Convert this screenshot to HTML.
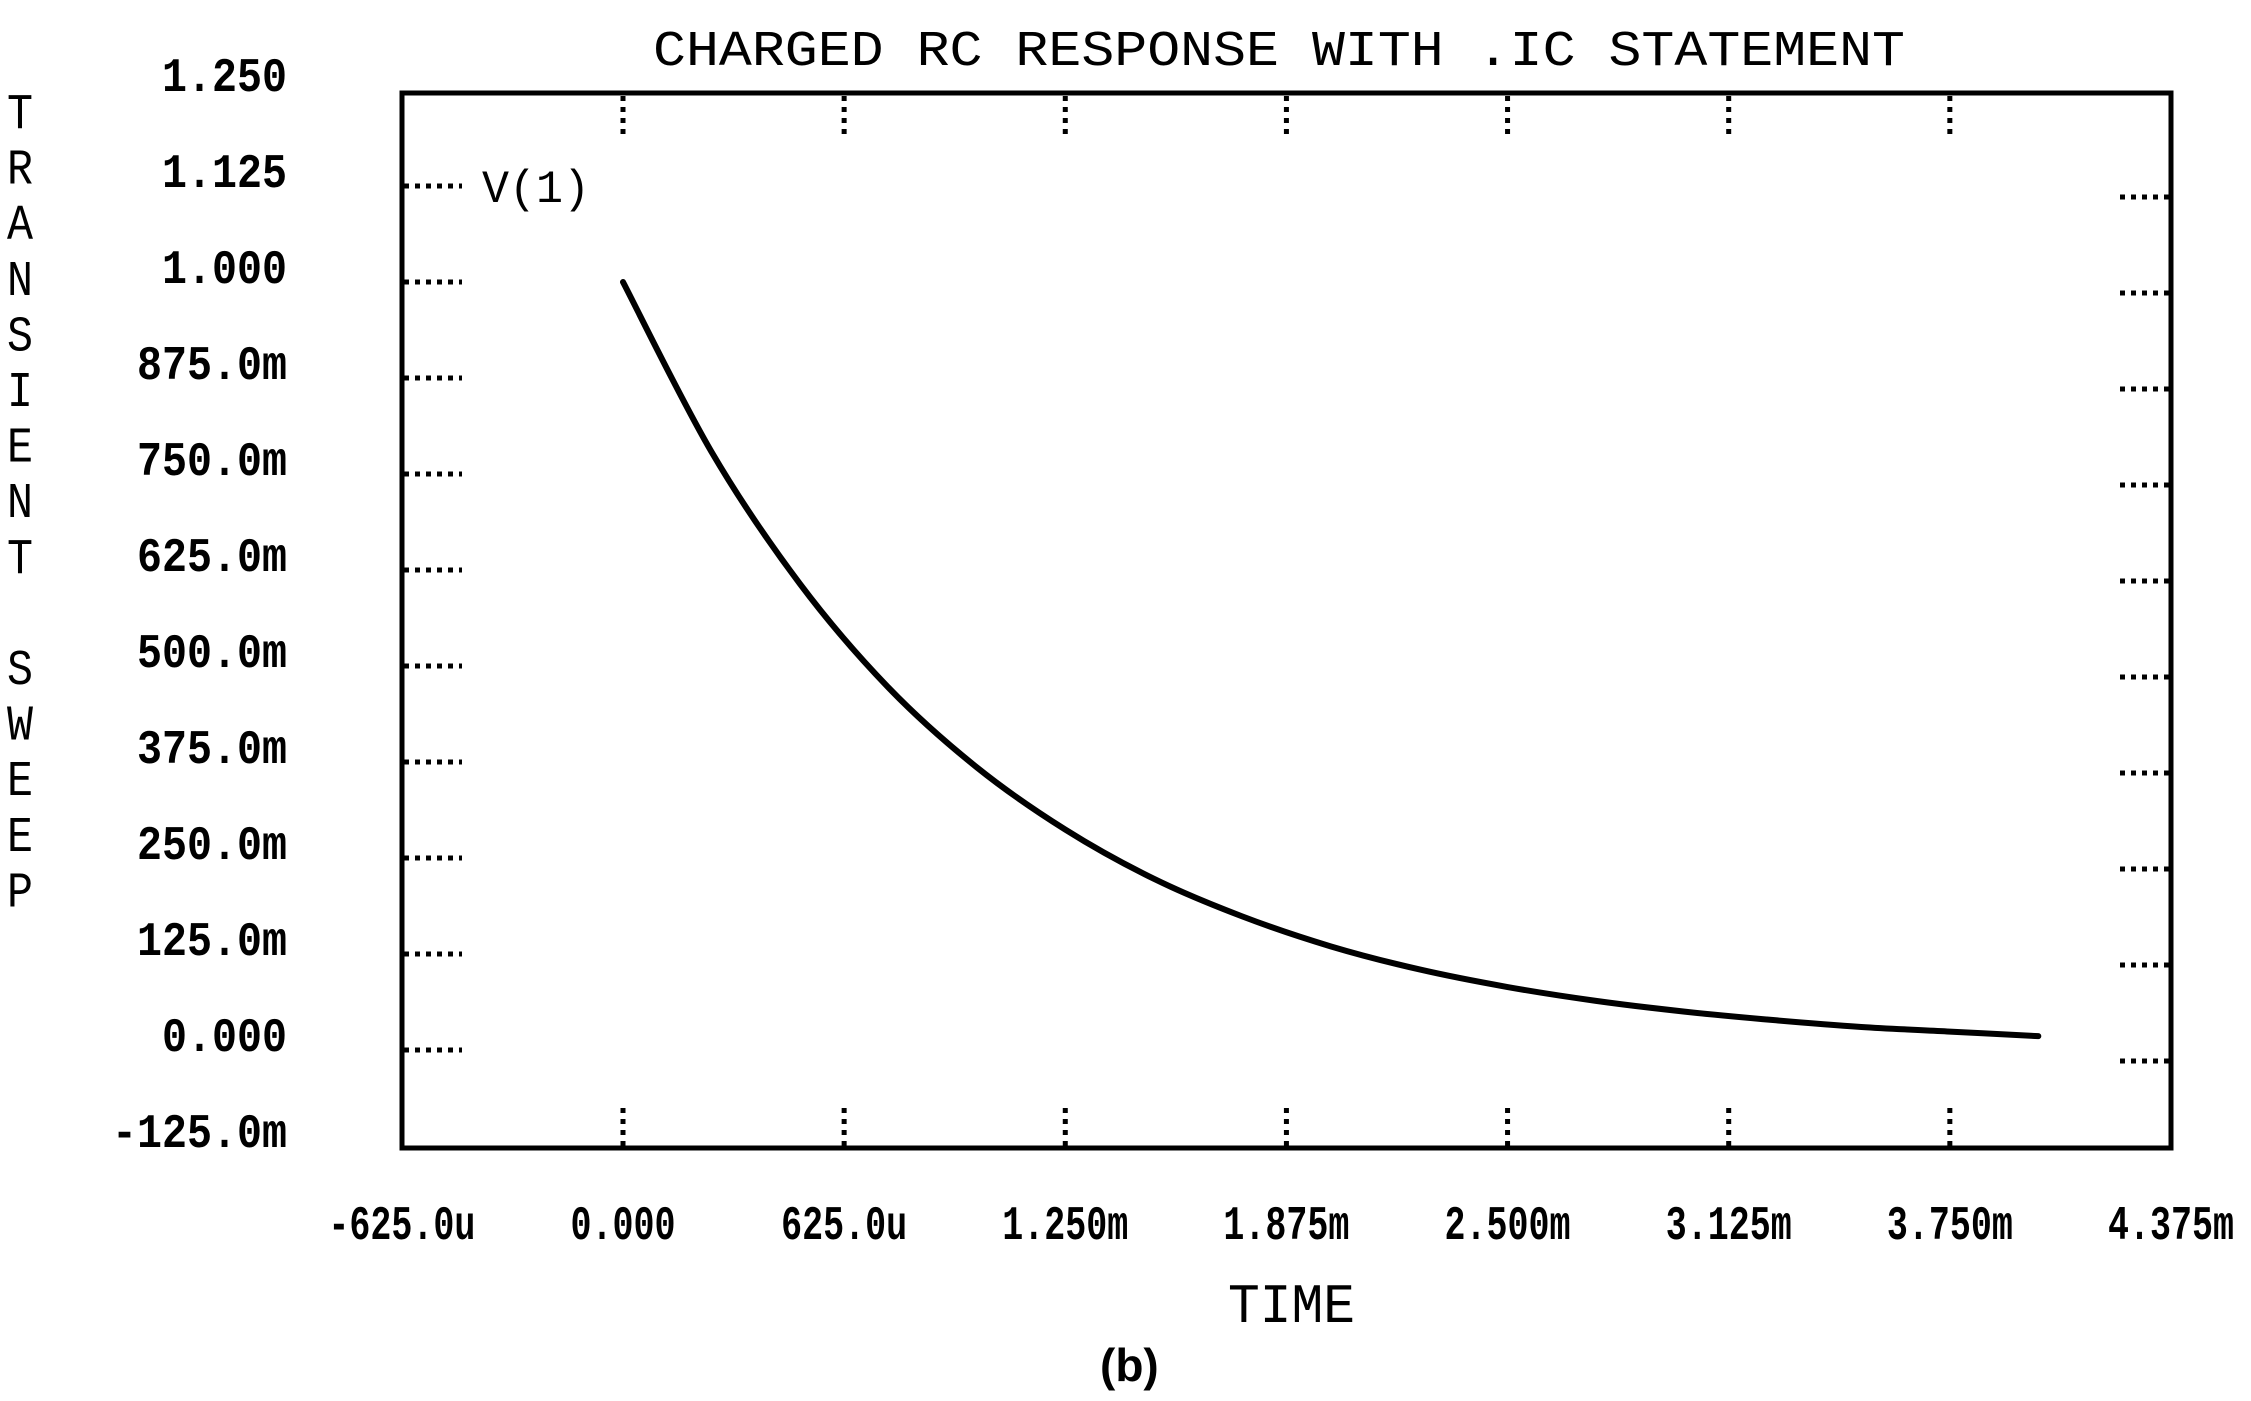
<!DOCTYPE html>
<html><head><meta charset="utf-8"><style>
html,body{margin:0;padding:0;background:#fff;}
svg{display:block;}
text{font-family:"Liberation Mono",monospace;fill:#000;}
</style></head><body>
<svg id="chart" width="2251" height="1401" viewBox="0 0 2251 1401" xmlns="http://www.w3.org/2000/svg">
<text x="653" y="65" font-size="50" textLength="1252" lengthAdjust="spacingAndGlyphs">CHARGED RC RESPONSE WITH .IC STATEMENT</text>
<g id="ytitle"></g>
<rect x="402" y="93" width="1769" height="1055" fill="none" stroke="#000" stroke-width="5"/>
<g id="ticks"></g>
<g id="labels"></g>
<text x="482" y="202" font-size="46" textLength="108" lengthAdjust="spacingAndGlyphs">V(1)</text>
<path id="curve" fill="none" stroke="#000" stroke-width="6" stroke-linecap="round" stroke-linejoin="round"/>
<text x="1228" y="1322" font-size="56" textLength="127" lengthAdjust="spacingAndGlyphs">TIME</text>
<text x="1100" y="1381" font-size="46" font-weight="bold" style="font-family:'Liberation Sans',sans-serif">(b)</text>
</svg>
<script>
const yTicks = [1.25, 1.125, 1.0, 0.875, 0.75, 0.625, 0.5, 0.375, 0.25, 0.125, 0, -0.125];
const yTickLabels = ["1.250","1.125","1.000","875.0m","750.0m","625.0m","500.0m","375.0m","250.0m","125.0m","0.000","-125.0m"];
const xTicks = [-0.625, 0, 0.625, 1.25, 1.875, 2.5, 3.125, 3.75, 4.375];
const xTickLabels = ["-625.0u","0.000","625.0u","1.250m","1.875m","2.500m","3.125m","3.750m","4.375m"];
const timeMs = [0,0.25,0.5,0.75,1.0,1.25,1.5,1.75,2.0,2.25,2.5,2.75,3.0,3.25,3.5,3.75,4.0];
const voltage = [1.0,0.779,0.607,0.472,0.368,0.287,0.223,0.174,0.135,0.105,0.082,0.064,0.050,0.039,0.030,0.024,0.018];
const yTitle = "TRANSIENT SWEEP";

const NS="http://www.w3.org/2000/svg";
function X(t){return 623 + t/0.625*221.14;}
function Y(v){return 282 + (1 - v)*768;}
function mk(tag, attrs, parent){const e=document.createElementNS(NS,tag);for(const k in attrs)e.setAttribute(k,attrs[k]);parent.appendChild(e);return e;}

const ticks=document.getElementById('ticks'), labels=document.getElementById('labels');
const dot={stroke:"#000","stroke-width":5,"stroke-dasharray":"5 6",fill:"none"};
yTicks.forEach((v,i)=>{
  const s=yTickLabels[i];
  const t=mk('text',{x:287,y:Y(v)+1,"font-size":48,"text-anchor":"end","font-weight":"bold",textLength:s.length*25,lengthAdjust:"spacingAndGlyphs"},labels);
  
  
  t.textContent=s;
  if(v<1.2 && v>-0.1){
    const l=mk('line',Object.assign({x1:404,y1:Y(v),x2:462,y2:Y(v)},dot),ticks);
    
    
    const r=mk('line',Object.assign({x1:2169,y1:Y(v)+11,x2:2116,y2:Y(v)+11},dot),ticks);
    
    
  }
});
xTicks.forEach((t,i)=>{
  const s=xTickLabels[i];
  const lab=mk('text',{x:X(t),y:1239,"font-size":48,"text-anchor":"middle","font-weight":"bold",textLength:s.length*21,lengthAdjust:"spacingAndGlyphs"},labels);
  
  
  lab.textContent=s;
  if(t>=0 && t<4){
    const a=mk('line',Object.assign({x1:X(t),y1:96,x2:X(t),y2:136},dot),ticks);
    
    
    const b=mk('line',Object.assign({x1:X(t),y1:1146,x2:X(t),y2:1106},dot),ticks);
    
    
  }
});
const yt=document.getElementById('ytitle');
[...yTitle].forEach((c,i)=>{
  if(c===' ')return;
  const e=mk('text',{x:20,y:128+i*55.6,"font-size":50,"text-anchor":"middle",textLength:26,lengthAdjust:"spacingAndGlyphs"},yt);
  
  
  e.textContent=c;
});
const P=timeMs.map((t,i)=>[X(t),Y(voltage[i])]);
let d="M"+P[0][0]+","+P[0][1];
for(let i=0;i<P.length-1;i++){
  const p0=P[Math.max(0,i-1)],p1=P[i],p2=P[i+1],p3=P[Math.min(P.length-1,i+2)];
  const c1=[p1[0]+(p2[0]-p0[0])/6,p1[1]+(p2[1]-p0[1])/6];
  const c2=[p2[0]-(p3[0]-p1[0])/6,p2[1]-(p3[1]-p1[1])/6];
  d+=" C"+c1.join(",")+" "+c2.join(",")+" "+p2.join(",");
}
document.getElementById('curve').setAttribute('d',d);
</script>
</body></html>
